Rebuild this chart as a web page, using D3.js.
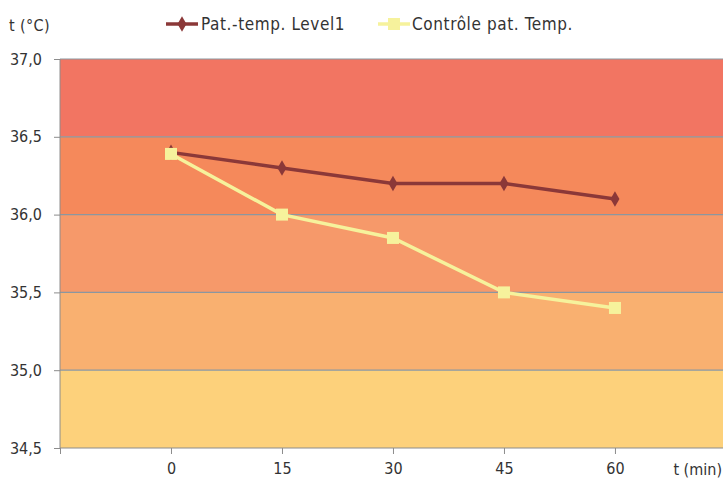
<!DOCTYPE html>
<meta charset="utf-8">
<head>
	<script src="https://d3js.org/d3.v7.min.js"></script>
	<style>
		body { margin: 0; background: #fff; }
		text { font-family: "Liberation Sans Narrow", "DejaVu Sans Condensed", sans-serif; fill: #333; }
		.axis path, .axis line { stroke: #8c8c8c; }
	</style>
</head>
<body>
	<div id="chart"></div>
<script>
	// data
	var minutes = [0, 15, 30, 45, 60];
	var levelTemp = [36.4, 36.3, 36.2, 36.2, 36.1];
	var controlTemp = [36.39, 36.0, 35.85, 35.5, 35.4];
	var yTicks = [34.5, 35.0, 35.5, 36.0, 36.5, 37.0];
	var xTicks = [-15, 0, 15, 30, 45, 60];
	var bandColors = ["#fdd17b", "#f9b070", "#f6996a", "#f5895b", "#f27562"];
	var seriesNames = ["Pat.-temp. Level1", "Contrôle pat. Temp."];
	var seriesColors = ["#8b3838", "#f6f29c"];

	var W = 723, H = 480;
	var margin = {top: 59, right: 0, bottom: 32, left: 60};
	var width = W - margin.left - margin.right,
		height = H - margin.top - margin.bottom;

	var svg = d3.select("#chart").append("svg")
		.attr("width", W).attr("height", H);

	var g = svg.append("g")
		.attr("transform", "translate(" + margin.left + "," + margin.top + ")");

	var x = d3.scaleLinear().domain([-15, 74.6]).range([0, width]);
	var y = d3.scaleLinear().domain([34.5, 37.0]).range([height, 0]);

	// colored bands
	g.selectAll(".band")
		.data(yTicks.slice(0, -1))
		.enter().append("rect")
		.attr("x", 0)
		.attr("width", width)
		.attr("y", function(d) { return y(d + 0.5); })
		.attr("height", function(d) { return y(d) - y(d + 0.5); })
		.style("fill", function(d, i) { return bandColors[i]; });

	// grid lines
	g.selectAll(".grid")
		.data(yTicks.slice(1))
		.enter().append("line")
		.attr("x1", 0).attr("x2", width)
		.attr("y1", function(d) { return y(d); })
		.attr("y2", function(d) { return y(d); })
		.style("stroke", "#8b97a0")
		.style("stroke-width", 1.2);

	var yAxis = g.append("g")
		.attr("class", "axis")
		.call(d3.axisLeft(y).tickValues(yTicks).tickSize(6).tickPadding(12)
			.tickFormat(function(d) { return d3.format(".1f")(d).replace(".", ","); }));
	yAxis.select(".domain").attr("d", "M0," + height + "V0");
	yAxis.selectAll("text").style("font-size", "16px").style("fill", "#333");

	var xAxis = g.append("g")
		.attr("class", "axis")
		.attr("transform", "translate(0," + height + ")")
		.call(d3.axisBottom(x).tickValues(xTicks).tickSize(6).tickPadding(9)
			.tickFormat(function(d) { return d < 0 ? "" : d; }));
	xAxis.select(".domain").attr("d", "M0,0H" + width);
	xAxis.selectAll("text").style("font-size", "16px").style("fill", "#333");

	g.append("text")
		.attr("x", width - 1)
		.attr("y", height + 27)
		.style("text-anchor", "end")
		.style("font-size", "16px")
		.text("t (min)");

	svg.append("text")
		.attr("x", 9)
		.attr("y", 31)
		.style("font-size", "16px")
		.style("letter-spacing", "0.4px")
		.text("t (°C)");

	var series = [levelTemp, controlTemp];
	var line = d3.line()
		.x(function(d, i) { return x(minutes[i]); })
		.y(function(d) { return y(d); });

	var diamond = d3.symbol().type(d3.symbolDiamond).size(70);

	series.forEach(function(s, k) {
		g.append("path")
			.datum(s)
			.attr("d", line)
			.style("fill", "none")
			.style("stroke", seriesColors[k])
			.style("stroke-width", 3.5);

		if (k === 0) {
			g.selectAll(".m0")
				.data(s).enter().append("path")
				.attr("d", diamond)
				.attr("transform", function(d, i) { return "translate(" + x(minutes[i]) + "," + y(d) + ")"; })
				.style("fill", seriesColors[k]);
		} else {
			g.selectAll(".m1")
				.data(s).enter().append("rect")
				.attr("x", function(d, i) { return x(minutes[i]) - 6; })
				.attr("y", function(d) { return y(d) - 6; })
				.attr("width", 12).attr("height", 12)
				.style("fill", seriesColors[k]);
		}
	});

	// legend
	var legendX = [166, 378];
	var legend = svg.selectAll(".legend")
		.data(seriesNames)
		.enter().append("g")
		.attr("transform", function(d, i) { return "translate(" + legendX[i] + ",24)"; });

	legend.append("line")
		.attr("x1", 0).attr("x2", 32)
		.style("stroke", function(d, i) { return seriesColors[i]; })
		.style("stroke-width", 3.5);

	legend.each(function(d, i) {
		var el = d3.select(this);
		if (i === 0) {
			el.append("path")
				.attr("d", diamond)
				.attr("transform", "translate(16,0)")
				.style("fill", seriesColors[i]);
		} else {
			el.append("rect")
				.attr("x", 10).attr("y", -6)
				.attr("width", 12).attr("height", 12)
				.style("fill", seriesColors[i]);
		}
	});

	legend.append("text")
		.attr("x", function(d, i) { return i === 0 ? 35 : 34; })
		.attr("y", 6)
		.style("font-size", "17px")
		.style("letter-spacing", "0.6px")
		.text(function(d) { return d; });
</script>
</body>
